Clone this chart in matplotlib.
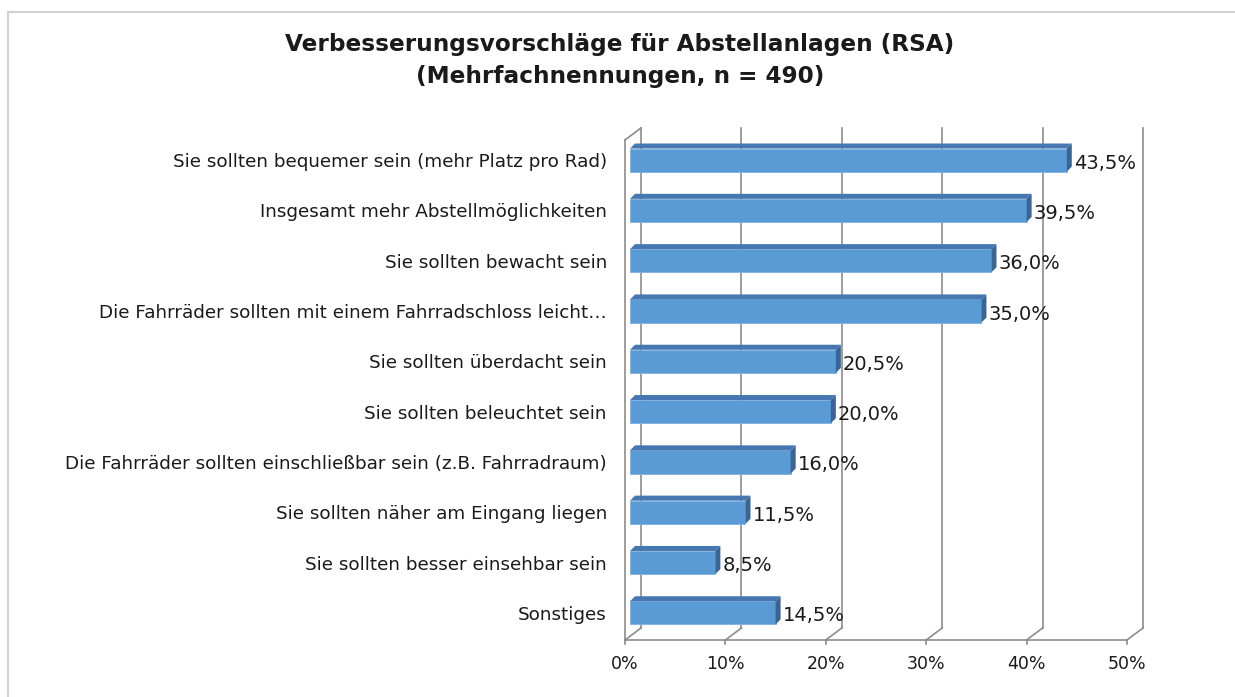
import matplotlib.pyplot as plt
from matplotlib.patches import Polygon, Rectangle

plt.rcParams['font.family'] = ['DejaVu Sans']

# | Data |
categories = [
    "Sie sollten bequemer sein (mehr Platz pro Rad)",
    "Insgesamt mehr Abstellmöglichkeiten",
    "Sie sollten bewacht sein",
    "Die Fahrräder sollten mit einem Fahrradschloss leicht…",
    "Sie sollten überdacht sein",
    "Sie sollten beleuchtet sein",
    "Die Fahrräder sollten einschließbar sein (z.B. Fahrradraum)",
    "Sie sollten näher am Eingang liegen",
    "Sie sollten besser einsehbar sein",
    "Sonstiges",
]
values = [43.5, 39.5, 36.0, 35.0, 20.5, 20.0, 16.0, 11.5, 8.5, 14.5]
ticks = [0, 10, 20, 30, 40, 50]
tick_labels = ["0%", "10%", "20%", "30%", "40%", "50%"]

W, H = 1235, 697
fig = plt.figure(figsize=(W / 100, H / 100), dpi=100)

# light frame round the chart
fig.patches.append(Rectangle((8 / W, -0.1), 1.2, 1 - 12 / H + 0.1, transform=fig.transFigure,
                             fill=False, edgecolor="#d0d0d0", lw=1.5))

# axes: front floor line at y=640px, 0..50% spans 625..1127px
x0, x1 = 625, 1127
y_top, y_bot = 140, 640
ax = fig.add_axes([x0 / W, (H - y_bot) / H, (x1 - x0) / W, (y_bot - y_top) / H])
ax.set_xlim(0, 50)
ax.set_ylim(9.54, -0.4)
for s in ax.spines.values():
    s.set_visible(False)
ax.patch.set_visible(False)

grid_col = "#8c8c8c"
dx, dy = 1.6, 0.24          # depth of the 3d box (data units)
ylo, yhi = 9.54, -0.4

# back wall gridlines + floor diagonals
for t in ticks:
    ax.plot([t + dx, t + dx], [ylo - dy, yhi - dy], color=grid_col, lw=1.2, clip_on=False, zorder=1)
    ax.plot([t, t + dx], [ylo, ylo - dy], color=grid_col, lw=1.2, clip_on=False, zorder=1)
    ax.plot([t, t], [ylo, ylo + 0.08], color=grid_col, lw=1.2, clip_on=False, zorder=1)
ax.plot([0, 50], [ylo, ylo], color=grid_col, lw=1.2, clip_on=False, zorder=1)
# left side wall
ax.plot([0, 0], [ylo, yhi], color=grid_col, lw=1.2, clip_on=False, zorder=1)
ax.plot([0, dx], [yhi, yhi - dy], color=grid_col, lw=1.2, clip_on=False, zorder=1)

# bars
ox, bh = 0.5, 0.46
bdx, bdy = 0.5, 0.1
front_col, top_col, side_col = "#5b9bd5", "#4677b0", "#3a6592"
ypos = list(range(len(categories)))
ax.barh(ypos, values, left=ox, height=bh, color=front_col, edgecolor="#7fb1e0", lw=0.6, zorder=3)
for y, v in zip(ypos, values):
    top = y - bh / 2
    bot = y + bh / 2
    ax.add_patch(Polygon([(ox, top), (ox + v, top), (ox + v + bdx, top - bdy), (ox + bdx, top - bdy)],
                         closed=True, facecolor=top_col, edgecolor="none", zorder=3, clip_on=False))
    ax.add_patch(Polygon([(ox + v, top), (ox + v, bot), (ox + v + bdx, bot - bdy), (ox + v + bdx, top - bdy)],
                         closed=True, facecolor=side_col, edgecolor="none", zorder=3, clip_on=False))
    ax.text(ox + v + bdx + 0.2, y + 0.06, f"{v:.1f}%".replace(".", ","), ha="left", va="center",
            fontsize=14, color="#1a1a1a", zorder=4, clip_on=False)

ax.set_yticks(ypos)
ax.set_yticklabels(categories, fontsize=13.2, color="#1a1a1a")
ax.tick_params(axis="y", length=0, pad=13)
ax.set_xticks(ticks)
ax.set_xticklabels(tick_labels, fontsize=12.5, color="#1a1a1a")
ax.tick_params(axis="x", length=0, pad=11)

fig.text(620 / W, 1 - 45 / H, "Verbesserungsvorschläge für Abstellanlagen (RSA)", ha="center", va="center",
         fontsize=16.7, fontweight="bold", color="#1a1a1a")
fig.text(620 / W, 1 - 77 / H, "(Mehrfachnennungen, n = 490)", ha="center", va="center",
         fontsize=16.7, fontweight="bold", color="#1a1a1a")

fig.savefig("out.png", dpi=100)
